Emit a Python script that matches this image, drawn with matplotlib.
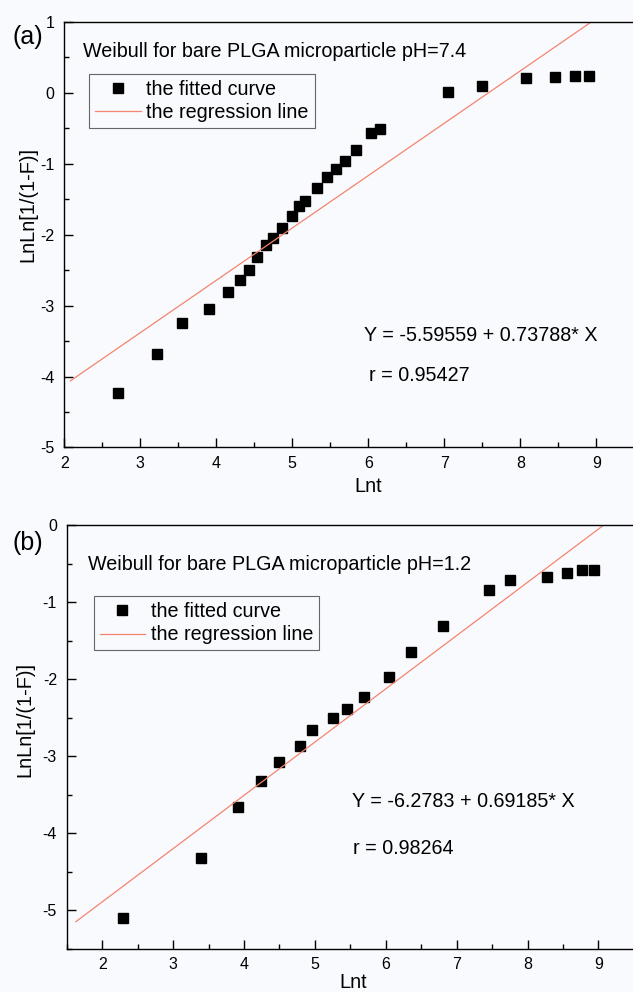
import numpy as np
import matplotlib
matplotlib.use("Agg")
import matplotlib.pyplot as plt
from matplotlib.ticker import MultipleLocator

plt.rcParams['font.family'] = ['Liberation Sans', 'DejaVu Sans']
plt.rcParams['axes.unicode_minus'] = False

# panel (a): pH 7.4
lnt_a = [2.70, 3.22, 3.55, 3.90, 4.16, 4.31, 4.43, 4.54, 4.65, 4.75, 4.87, 4.99, 5.09, 5.17,
         5.32, 5.46, 5.58, 5.69, 5.84, 6.03, 6.16, 7.05, 7.50, 8.08, 8.45, 8.72, 8.90]
lnln_a = [-4.23, -3.68, -3.24, -3.05, -2.81, -2.64, -2.50, -2.31, -2.15, -2.05, -1.90, -1.74,
          -1.60, -1.53, -1.34, -1.19, -1.07, -0.96, -0.81, -0.57, -0.51, 0.01, 0.10, 0.20,
          0.22, 0.23, 0.23]
fit_a = (-5.59559, 0.73788)
r_a = 0.95427
fit_range_a = [2.08, 9.5]

# panel (b): pH 1.2
lnt_b = [2.29, 3.40, 3.91, 4.24, 4.50, 4.79, 4.96, 5.26, 5.46, 5.69, 6.04, 6.36, 6.81, 7.46,
         7.75, 8.27, 8.56, 8.77, 8.94]
lnln_b = [-5.10, -4.32, -3.66, -3.32, -3.08, -2.87, -2.66, -2.51, -2.39, -2.23, -1.97, -1.65,
          -1.31, -0.84, -0.71, -0.68, -0.62, -0.58, -0.58]
fit_b = (-6.2783, 0.69185)
r_b = 0.98264
fit_range_b = [1.63, 9.5]

x_ticks = [2, 3, 4, 5, 6, 7, 8, 9]

bg = '#f9fafd'
line_col = '#f4846f'
fs = 14.2

fig = plt.figure(figsize=(6.33, 9.92), dpi=100, facecolor=bg)


def panel(ax, x, y, fit, r, xr, xlim, ylim, title, eq_txt, eq_pos, r_pos, title_pos, leg_pos,
          ylab, xlab):
    ax.set_facecolor(bg)
    ax.plot(x, y, 's', color='black', markersize=6.5, label='the fitted curve')
    xx = np.array(xr)
    ax.plot(xx, fit[0] + fit[1] * xx, '-', color=line_col, lw=0.9, label='the regression line')
    ax.set_xlim(*xlim)
    ax.set_ylim(*ylim)
    ax.set_xticks(x_ticks)
    ax.xaxis.set_minor_locator(MultipleLocator(0.5))
    ax.yaxis.set_major_locator(MultipleLocator(1))
    ax.yaxis.set_minor_locator(MultipleLocator(0.5))
    ax.tick_params(which='both', direction='in', top=False, right=False, labelsize=11.5,
                   width=1.0)
    ax.tick_params(which='major', length=6.5)
    ax.tick_params(which='minor', length=3.5)
    ax.tick_params(axis='x', pad=6)
    ax.tick_params(axis='y', pad=7)
    for s in ax.spines.values():
        s.set_linewidth(1.0)
    ax.set_xlabel('Lnt', fontsize=14.4)
    ax.set_ylabel('LnLn[1/(1-F)]', fontsize=14.4)
    ax.xaxis.set_label_coords(xlab[0], xlab[1])
    ax.yaxis.set_label_coords(ylab[0], ylab[1])
    ax.text(title_pos[0], title_pos[1], title, transform=ax.transAxes, fontsize=fs,
            va='center', ha='left')
    ax.text(eq_pos[0], eq_pos[1], eq_txt, transform=ax.transAxes, fontsize=fs,
            va='center', ha='left')
    ax.text(r_pos[0], r_pos[1], 'r = %.5f' % r, transform=ax.transAxes, fontsize=fs,
            va='center', ha='left')
    leg = ax.legend(loc='upper left', bbox_to_anchor=leg_pos, borderaxespad=0, fontsize=fs,
                    fancybox=False, edgecolor='#666666', framealpha=1, facecolor=bg,
                    handlelength=2.3, handletextpad=0.3, labelspacing=0.22, borderpad=0.3)
    leg.get_frame().set_linewidth(0.8)


ax1 = fig.add_axes([0.1016, 0.5489, 0.9605, 0.4292])
panel(ax1, lnt_a, lnln_a, fit_a, r_a, fit_range_a, (2, 10), (-5, 1),
      'Weibull for bare PLGA microparticle pH=7.4', 'Y = -5.59559 + 0.73788* X',
      (0.493, 0.264), (0.501, 0.168), (0.031, 0.929), (0.041, 0.877), (-0.045, 0.570),
      (0.5, -0.069))

ax2 = fig.add_axes([0.1054, 0.0438, 0.952, 0.4269])
panel(ax2, lnt_b, lnln_b, fit_b, r_b, fit_range_b, (1.5, 10), (-5.5, 0),
      'Weibull for bare PLGA microparticle pH=1.2', 'Y = -6.2783 + 0.69185* X',
      (0.473, 0.347), (0.475, 0.237), (0.035, 0.906), (0.045, 0.832), (-0.053, 0.541),
      (0.476, -0.057))

fig.text(12 / 633, 1 - 37 / 992, '(a)', fontsize=18, va='center', ha='left')
fig.text(12 / 633, 1 - 543 / 992, '(b)', fontsize=18, va='center', ha='left')

fig.savefig('out.png', dpi=100, facecolor=bg)
